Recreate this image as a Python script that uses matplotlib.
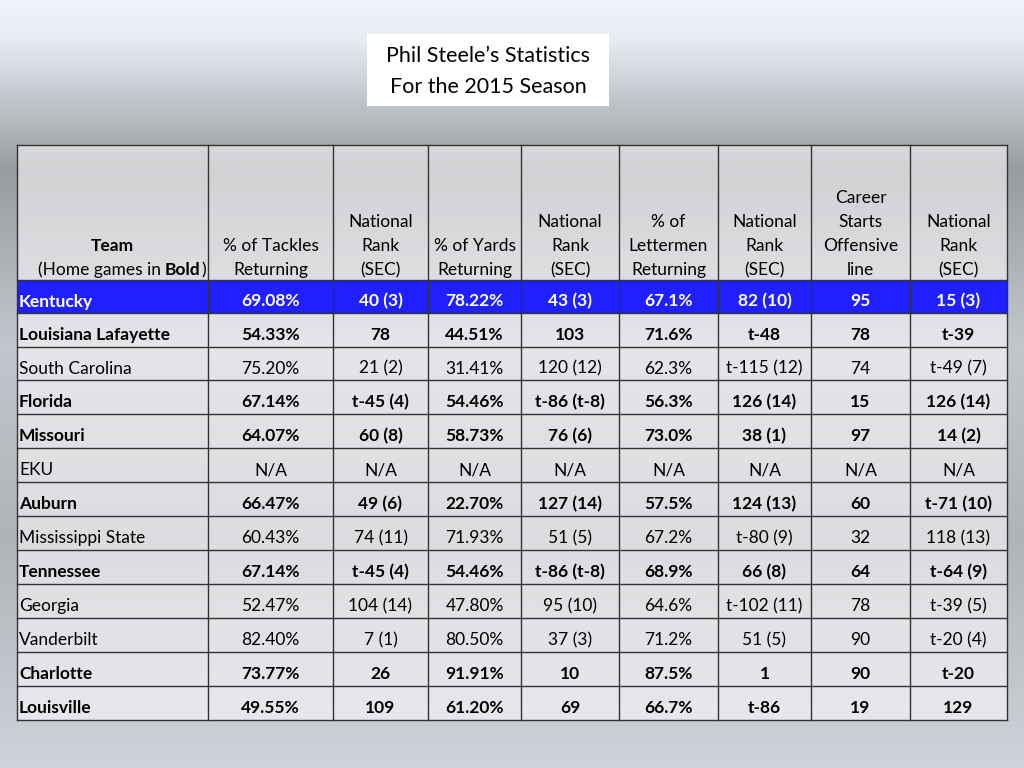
import numpy as np
import matplotlib.pyplot as plt

teams = ["Kentucky","Louisiana Lafayette","South Carolina","Florida","Missouri","EKU","Auburn",
         "Mississippi State","Tennessee","Georgia","Vanderbilt","Charlotte","Louisville"]
bold = [True,True,False,True,True,False,True,False,True,False,False,True,True]
tackles = ["69.08%","54.33%","75.20%","67.14%","64.07%","N/A","66.47%","60.43%","67.14%","52.47%","82.40%","73.77%","49.55%"]
tackle_rank = ["40 (3)","78","21 (2)","t-45 (4)","60 (8)","N/A","49 (6)","74 (11)","t-45 (4)","104 (14)","7 (1)","26","109"]
yards = ["78.22%","44.51%","31.41%","54.46%","58.73%","N/A","22.70%","71.93%","54.46%","47.80%","80.50%","91.91%","61.20%"]
yards_rank = ["43 (3)","103","120 (12)","t-86 (t-8)","76 (6)","N/A","127 (14)","51 (5)","t-86 (t-8)","95 (10)","37 (3)","10","69"]
letter = ["67.1%","71.6%","62.3%","56.3%","73.0%","N/A","57.5%","67.2%","68.9%","64.6%","71.2%","87.5%","66.7%"]
letter_rank = ["82 (10)","t-48","t-115 (12)","126 (14)","38 (1)","N/A","124 (13)","t-80 (9)","66 (8)","t-102 (11)","51 (5)","1","t-86"]
starts = ["95","78","74","15","97","N/A","60","32","64","78","90","90","19"]
starts_rank = ["15 (3)","t-39","t-49 (7)","126 (14)","14 (2)","N/A","t-71 (10)","118 (13)","t-64 (9)","t-39 (5)","t-20 (4)","t-20","129"]
headers = [None, ["% of Tackles","Returning"], ["National","Rank","(SEC)"], ["% of Yards","Returning"],
           ["National","Rank","(SEC)"], ["% of","Lettermen","Returning"], ["National","Rank","(SEC)"],
           ["Career","Starts","Offensive","line"], ["National","Rank","(SEC)"]]

cols = [teams, tackles, tackle_rank, yards, yards_rank, letter, letter_rank, starts, starts_rank]
xb = [17,208,333,428,521,619,718,811,910,1007]
yb = [145,280,313,347,380,414,448,482,516,550,584,618,652,686,720]

FONT = "Lato"
fig = plt.figure(figsize=(10.24,7.68), dpi=100)
ax = fig.add_axes([0,0,1,1])
ax.set_xlim(0,1024); ax.set_ylim(768,0); ax.axis("off")

ys = np.linspace(0,1,300)
prof = np.interp(ys,[0,0.05,0.22,0.45,0.7,1.0],[0.99,0.95,0.62,0.80,0.72,0.85])
col = np.stack([prof*0.93+0.02, prof*0.95+0.02, prof*0.98+0.02],axis=1)
ax.imshow(np.repeat(col[:,None,:],10,axis=1), extent=[0,1024,768,0], aspect="auto", zorder=0)

ax.add_patch(plt.Rectangle((367,34),242,72,facecolor="white",edgecolor="none",zorder=1))
ax.text(488,56,"Phil Steele\u2019s Statistics",ha="center",va="center",fontsize=15.5,family=FONT,zorder=2)
ax.text(488,87,"For the 2015 Season",ha="center",va="center",fontsize=15.5,family=FONT,zorder=2)

ax.add_patch(plt.Rectangle((xb[0],yb[0]),xb[-1]-xb[0],yb[-1]-yb[0],facecolor="white",alpha=0.55,edgecolor="none",zorder=1))
ax.add_patch(plt.Rectangle((xb[0],yb[1]),xb[-1]-xb[0],yb[2]-yb[1],facecolor="#1f1fff",edgecolor="none",zorder=1.5))
for x in xb:
    ax.plot([x,x],[yb[0],yb[-1]],color="#333333",lw=1,zorder=3)
for y in yb:
    ax.plot([xb[0],xb[-1]],[y,y],color="#333333",lw=1,zorder=3)

fs = 12.5
for j,h in enumerate(headers):
    cx = (xb[j]+xb[j+1])/2
    if h is None:
        ax.text(cx,246,"Team",ha="center",va="center",fontsize=fs,family=FONT,weight="bold",zorder=4)
        ax.text(165,270,"(Home games in ",ha="right",va="center",fontsize=fs,family=FONT,zorder=4)
        ax.text(165,270,"Bold",ha="left",va="center",fontsize=fs,family=FONT,weight="bold",zorder=4)
        ax.text(201,270,")",ha="left",va="center",fontsize=fs,family=FONT,zorder=4)
        continue
    n = len(h)
    for k,line in enumerate(h):
        ax.text(cx,270-24*(n-1-k),line,ha="center",va="center",fontsize=fs,family=FONT,zorder=4)

for i in range(len(teams)):
    cy = (yb[i+1]+yb[i+2])/2 + 5
    w = "bold" if bold[i] else "normal"
    c = "white" if i==0 else "black"
    for j,data in enumerate(cols):
        if j==0:
            ax.text(xb[0]+2,cy,data[i],ha="left",va="center",fontsize=fs,family=FONT,weight=w,color=c,zorder=4)
        else:
            ax.text((xb[j]+xb[j+1])/2,cy,data[i],ha="center",va="center",fontsize=fs,family=FONT,weight=w,color=c,zorder=4)

fig.savefig("out.png",dpi=100)
